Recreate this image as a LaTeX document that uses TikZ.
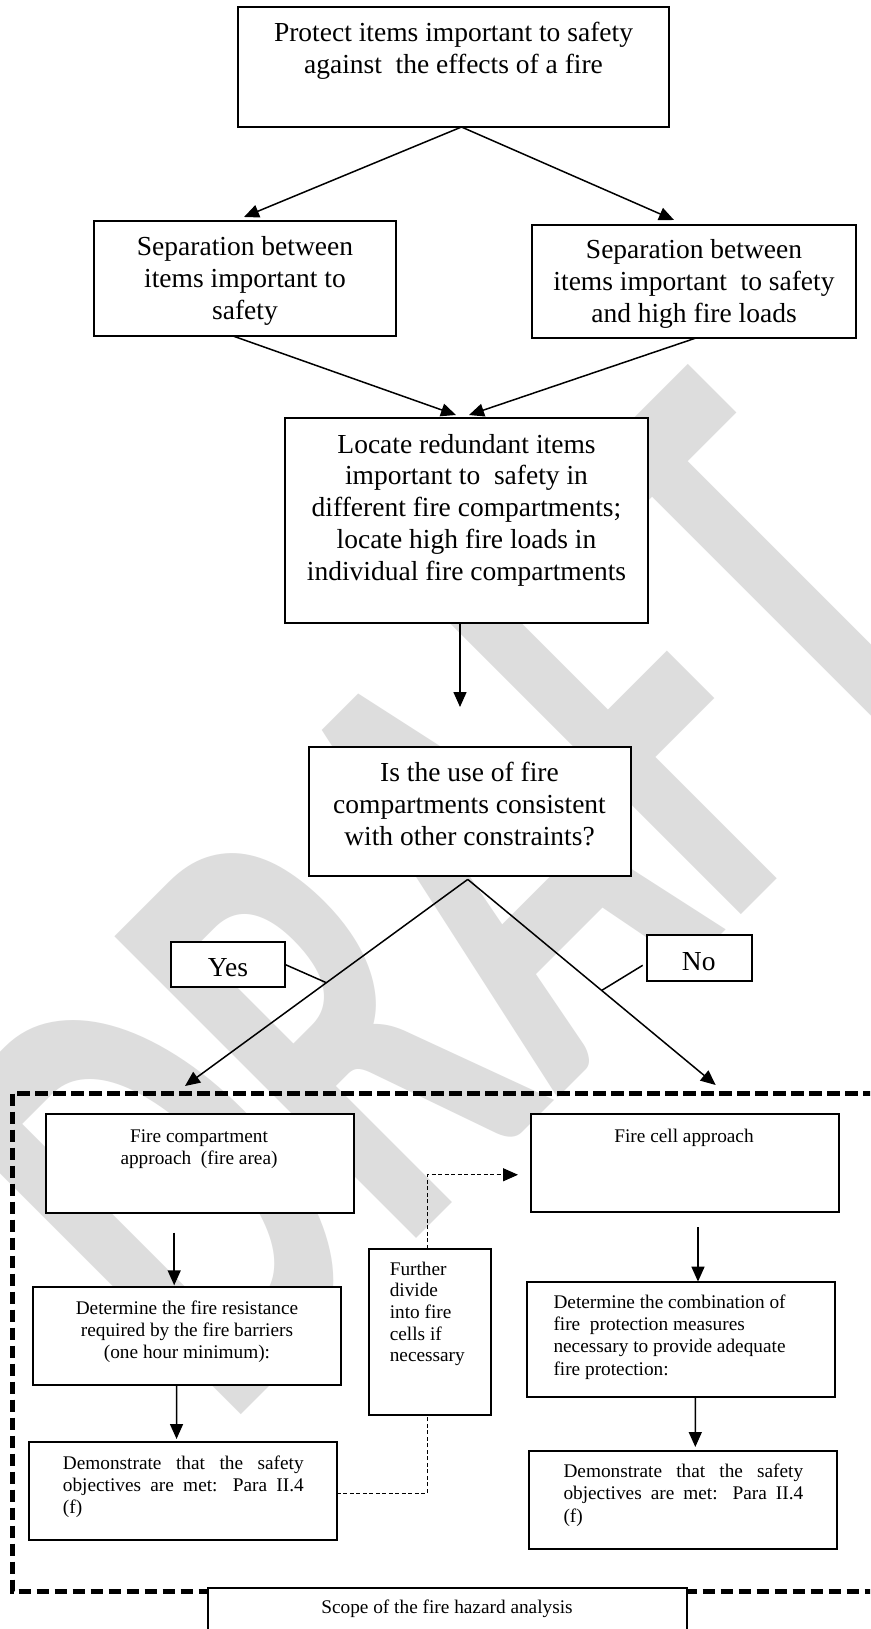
\documentclass[tikz,border=0pt]{standalone}
\usepackage{fontspec}
\setmainfont{Liberation Serif}
\newfontfamily\wmfont{Carlito}
\usetikzlibrary{arrows.meta,calc}
\definecolor{wmgray}{RGB}{221,221,221}
\tikzset{
  box/.style={draw=black,line width=2pt,fill=white,anchor=north west,inner sep=0pt,outer sep=0pt},
  bigtxt/.style={font=\fontsize{27.5}{31.8}\selectfont,inner sep=0pt,anchor=base},
  smalltxt/.style={font=\fontsize{19.3}{22.2}\selectfont,inner sep=0pt,anchor=base},
  arr/.style={line width=1.5pt,-{Triangle[length=15pt,width=13pt]}},
  conn/.style={line width=1.5pt},
  dasharr/.style={line width=1.3pt,dash pattern=on 4pt off 2.5pt,-{Triangle[length=15pt,width=13pt]}},
  dashline/.style={line width=1.3pt,dash pattern=on 4pt off 2.5pt},
  scopeframe/.style={line width=4.3pt,dash pattern=on 12.5pt off 5.5pt},
}
\begin{document}
\begin{tikzpicture}[x=1pt,y=-1pt]
\useasboundingbox (0,0) rectangle (870,1629);
\clip (0,0) rectangle (870,1629);
\fill[white] (0,0) rectangle (870,1629);
% watermark
\node[inner sep=0pt,text=wmgray] (wm) at (458,896)
  {\rotatebox{45}{\scalebox{1}[1.67]{\wmfont\bfseries\fontsize{394}{394}\selectfont DRAFT}}};
% dashed frame
\draw[scopeframe] (12.5,1093.5) rectangle (900,1591.5);
% boxes
\node[box,minimum width=431pt,minimum height=120pt] (top) at (238,7) {};
\node[box,minimum width=302pt,minimum height=115pt] (sepL) at (94,221) {};
\node[box,minimum width=324pt,minimum height=113pt] (sepR) at (532,225) {};
\node[box,minimum width=363pt,minimum height=204.5pt] (loc) at (285,418) {};
\node[box,minimum width=322.5pt,minimum height=129.4pt] (q) at (308.5,747) {};
\node[box,minimum width=114pt,minimum height=45.5pt] (yes) at (171,941.7) {};
\node[box,minimum width=105pt,minimum height=45.4pt] (no) at (647,935.3) {};
\node[box,minimum width=308pt,minimum height=98.5pt] (fca) at (45.5,1114) {};
\node[box,minimum width=307.5pt,minimum height=97.5pt] (fcell) at (531,1114) {};
\node[box,minimum width=307.4pt,minimum height=97.7pt] (det) at (33.3,1287.3) {};
\node[box,minimum width=307.9pt,minimum height=98pt] (demL) at (28.9,1442) {};
\node[box,minimum width=122pt,minimum height=166pt] (fur) at (369,1248.5) {};
\node[box,minimum width=308pt,minimum height=114.8pt] (comb) at (526.6,1281.8) {};
\node[box,minimum width=307.4pt,minimum height=98.2pt] (demR) at (529.4,1451) {};
\node[box,minimum width=479pt,minimum height=80pt] (scope) at (207.5,1587.5) {};
% texts
\node[bigtxt] (ttop) at (453.5,41.7) {\parbox[t]{420pt}{\centering Protect items important to safety\\against\ \ the effects of a fire}};
\node[bigtxt] (tsepL) at (245,255.5) {\parbox[t]{295pt}{\centering Separation between\\items important to\\safety}};
\node[bigtxt] (tsepR) at (694,258.5) {\parbox[t]{320pt}{\centering Separation between\\items important\ \ to safety\\and high fire loads}};
\node[bigtxt] (tloc) at (466.5,453) {\parbox[t]{360pt}{\centering Locate redundant items\\important to\ \ safety in\\different fire compartments;\\locate high fire loads in\\individual fire compartments}};
\node[bigtxt] (tq) at (469.5,781.8) {\parbox[t]{318pt}{\centering Is the use of fire\\compartments consistent\\with other constraints?}};
\node[bigtxt] (tyes) at (228,976.5) {Yes};
\node[bigtxt] (tno) at (698.7,970) {No};
\node[smalltxt] (tfca) at (199,1142) {\parbox[t]{300pt}{\centering Fire compartment\\approach\ \ (fire area)}};
\node[smalltxt] (tfcell) at (684,1142) {Fire cell approach};
\node[smalltxt] (tdet) at (187,1314) {\parbox[t]{300pt}{\centering Determine the fire resistance\\required by the fire barriers\\(one hour minimum):}};
\node[smalltxt,anchor=base west] (tdemL) at (62.7,1469.3) {\parbox[t]{240.8pt}{\makebox[\linewidth][s]{Demonstrate that the safety}\\\makebox[\linewidth][s]{objectives are met: Para II.4}\\(f)}};
\node[smalltxt,anchor=base west,font=\fontsize{19.3}{21.7}\selectfont] (tfur) at (389.6,1275) {\parbox[t]{100pt}{\raggedright Further\\divide\\into fire\\cells if\\necessary}};
\node[smalltxt,anchor=base west] (tcomb) at (553.3,1308.4) {\parbox[t]{275pt}{\raggedright Determine the combination of\\fire\ \ protection measures\\necessary to provide adequate\\fire protection:}};
\node[smalltxt,anchor=base west] (tdemR) at (563.3,1477.6) {\parbox[t]{239.7pt}{\makebox[\linewidth][s]{Demonstrate that the safety}\\\makebox[\linewidth][s]{objectives are met: Para II.4}\\(f)}};
\node[smalltxt] (tscope) at (447,1613.6) {Scope of the fire hazard analysis};
% connectors
\draw[arr] ($(top.south)+(8,0)$) -- ($(sepL.north)+(-1,-4)$);
\draw[arr] ($(top.south)+(8,0)$) -- ($(sepR.north)+(-20,-5)$);
\draw[arr] ($(sepL.south)+(-12,0)$) -- ($(loc.north)+(-10.5,-3)$);
\draw[arr] ($(sepR.south)+(2,0)$) -- ($(loc.north)+(2.5,-3)$);
\draw[arr] ($(loc.south)+(-6.5,0)$) -- ($(q.north)+(-9.75,-40)$);
\coordinate (qa) at ($(q.south)+(-2,3)$);
\coordinate (ytip) at (185,1086);
\coordinate (ntip) at (715.7,1085);
\draw[arr] (qa) -- (ytip);
\draw[arr] (qa) -- (ntip);
\draw[conn] (yes.east) -- ($(qa)!0.5!(ytip)$);
\draw[conn] ($(no.west)+(-4.3,7.3)$) -- ($(qa)!0.54!(ntip)$);
\draw[arr] ($(fca.south)+(-25.3,20)$) -- ($(det.north)+(-12.8,-2)$);
\draw[arr] ($(det.south)+(-10.5,0)$) -- ($(demL.north)+(-6.3,-3)$);
\draw[arr] ($(fcell.south)+(13.25,15.5)$) -- ($(comb.north)+(17.4,-0.2)$);
\draw[arr] ($(comb.south)+(14.7,0)$) -- ($(demR.north)+(12.2,-4)$);
\draw[dasharr] ($(fur.north)+(-2.7,0)$) |- ($(fcell.west)+(-13,12)$);
\draw[dashline] ($(demL.east)+(0,2.2)$) -| ($(fur.south)+(-2.7,0)$);
\end{tikzpicture}
\end{document}
